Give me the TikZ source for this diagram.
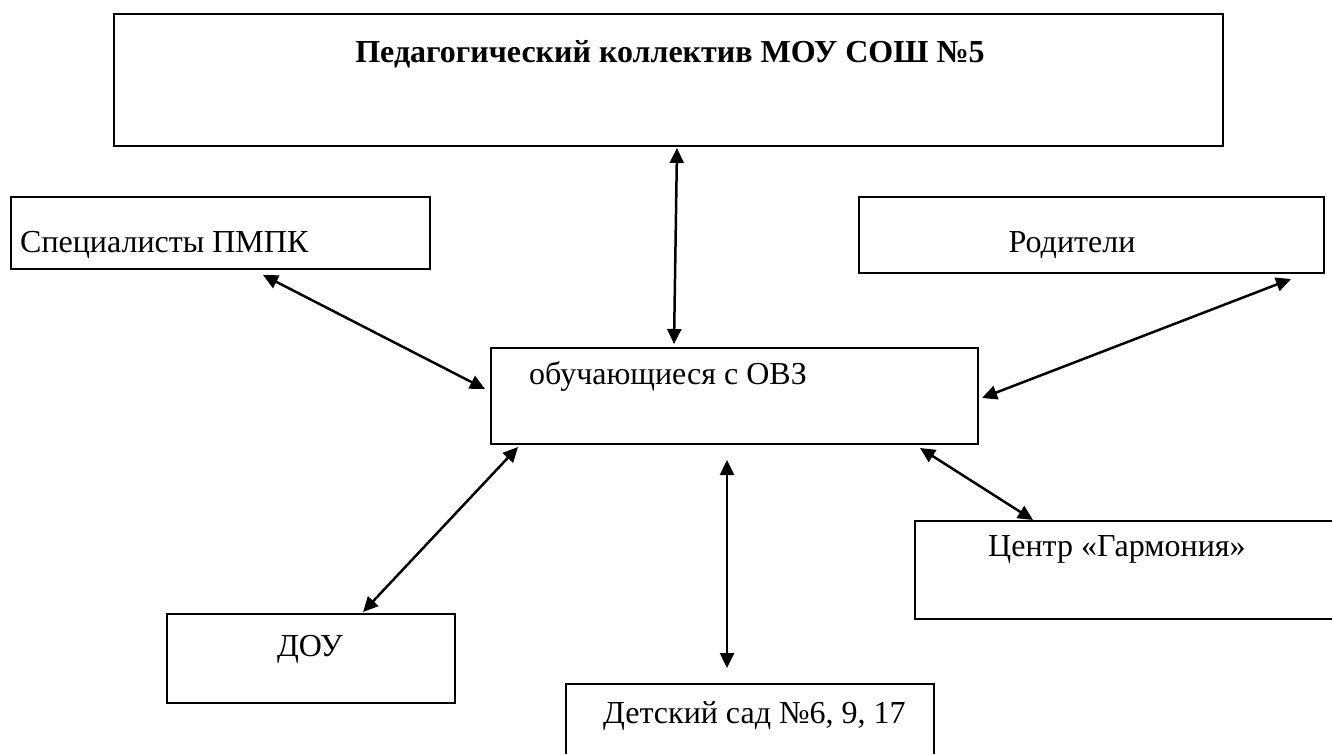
\documentclass[tikz,border=0pt]{standalone}
\usepackage{fontspec}
\setmainfont{Liberation Serif}
\usetikzlibrary{arrows.meta,calc}

\tikzset{
  box/.style={draw, line width=2pt, rectangle, inner sep=0pt, anchor=north west},
  link/.style={line width=2.5pt, {Triangle[length=15pt,width=14pt]}-{Triangle[length=15pt,width=14pt]}},
  txt/.style={inner sep=0pt, font=\fontsize{32}{38}\selectfont}
}

\begin{document}
\begin{tikzpicture}[x=1pt, y=-1pt]
\useasboundingbox[fill=white] (0,0) rectangle (1332,753);

\node[box, minimum width=1109pt, minimum height=132pt] (ped) at (113,13) {};
\node[box, minimum width=419pt, minimum height=72pt] (spec) at (10,196) {};
\node[box, minimum width=465pt, minimum height=76pt] (rod) at (858,196) {};
\node[box, minimum width=487pt, minimum height=96pt] (obuch) at (490,347) {};
\node[box, minimum width=460pt, minimum height=98pt] (centr) at (914,520) {};
\node[box, minimum width=288pt, minimum height=89pt] (dou) at (166,613) {};
\node[box, minimum width=368pt, minimum height=100pt] (sad) at (565,683) {};

\node[txt, anchor=base, font=\fontsize{32}{38}\selectfont\bfseries] (pedText) at (670,62) {Педагогический коллектив МОУ СОШ №5};
\node[txt, anchor=base west] (specText) at (20,252) {Специалисты ПМПК};
\node[txt, anchor=base] (rodText) at (1072,252) {Родители};
\node[txt, anchor=base west] (obuchText) at (529,384) {обучающиеся с ОВЗ};
\node[txt, anchor=base west] (centrText) at (988,556) {Центр «Гармония»};
\node[txt, anchor=base] (douText) at (310,656) {ДОУ};
\node[txt, anchor=base west] (sadText) at (603,723) {Детский сад №6, 9, 17};

\draw[link] ($(ped.south)+(8.5,1)$) -- ($(obuch.north)+(-60.5,-3)$);
\draw[link] ($(spec.south)+(42.5,5)$) -- ($(obuch.west)+(-5,-7)$);
\draw[link] ($(rod.south)+(199.5,5)$) -- ($(obuch.east)+(3,2)$);
\draw[link] ($(obuch.south west)+(28,2)$) -- ($(dou.north)+(52,-1)$);
\draw[link] ($(obuch.south)+(-7.5,15)$) -- ($(sad.north)+(-23,-15)$);
\draw[link] ($(obuch.south east)+(-59,3)$) -- ($(centr.north west)+(119,0)$);
\end{tikzpicture}
\end{document}
